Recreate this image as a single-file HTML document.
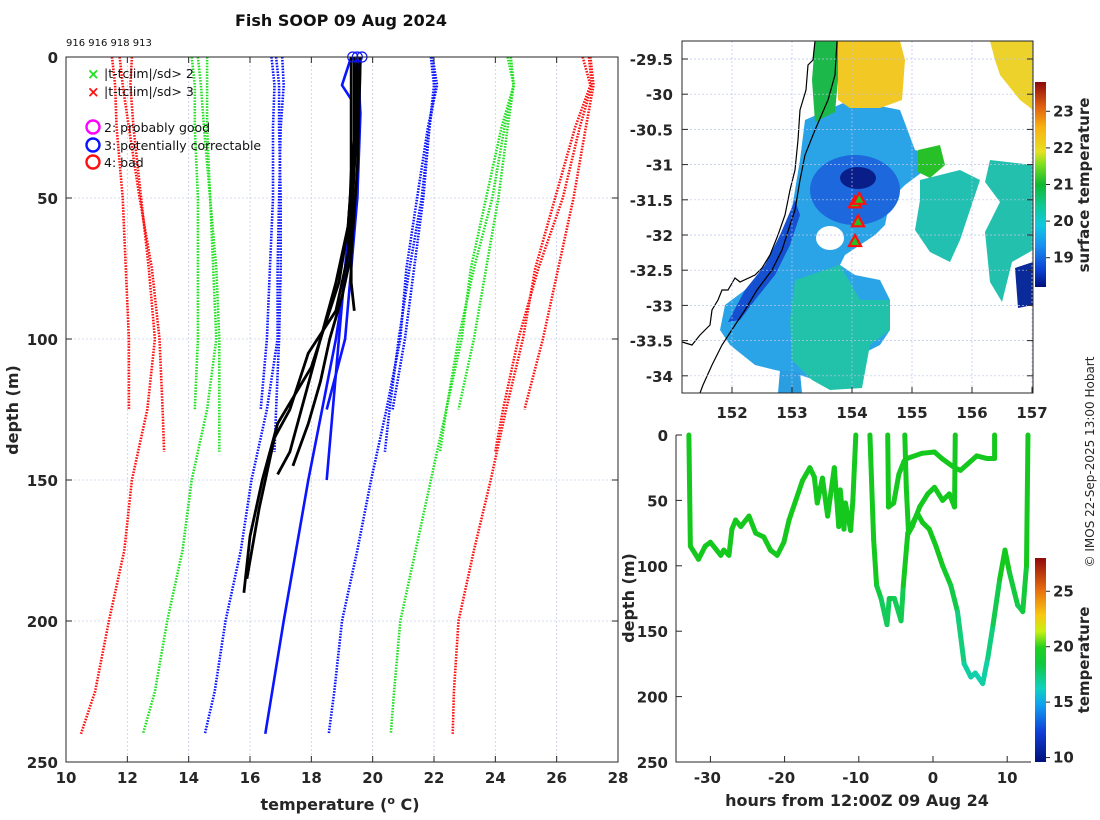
<!DOCTYPE html>
<html><head><meta charset="utf-8">
<style>
html,body{margin:0;padding:0;background:#fff;}
svg{display:block;font-family:"DejaVu Sans","Liberation Sans",sans-serif;}
.tk{font-size:15px;font-weight:bold;fill:#262626;}
</style></head>
<body>
<svg id="fig" width="1100" height="820" viewBox="0 0 1100 820" xmlns="http://www.w3.org/2000/svg">
<defs>
<linearGradient id="cb1" x1="0" y1="1" x2="0" y2="0">
<stop offset="0" stop-color="#00107a"/><stop offset="0.08" stop-color="#0a3fd0"/><stop offset="0.2" stop-color="#1a8ff0"/><stop offset="0.3" stop-color="#10c8e0"/><stop offset="0.4" stop-color="#10c890"/><stop offset="0.5" stop-color="#10b830"/><stop offset="0.6" stop-color="#80e020"/><stop offset="0.66" stop-color="#e8e020"/><stop offset="0.78" stop-color="#f8b010"/><stop offset="0.88" stop-color="#e06010"/><stop offset="1" stop-color="#8c0a0a"/>
</linearGradient>
<linearGradient id="cb2" x1="0" y1="1" x2="0" y2="0">
<stop offset="0" stop-color="#00107a"/><stop offset="0.15" stop-color="#1040d8"/><stop offset="0.28" stop-color="#10a0f0"/><stop offset="0.36" stop-color="#10d0c0"/><stop offset="0.48" stop-color="#10c840"/><stop offset="0.56" stop-color="#20d020"/><stop offset="0.64" stop-color="#c8f010"/><stop offset="0.72" stop-color="#f8c810"/><stop offset="0.84" stop-color="#e87010"/><stop offset="1" stop-color="#900a0a"/>
</linearGradient>
<clipPath id="mapclip"><rect x="682" y="41" width="351" height="352"/></clipPath>
<clipPath id="leftclip"><rect x="66" y="57" width="552" height="705"/></clipPath>
</defs>

<text x="341" y="26" text-anchor="middle" font-size="16" font-weight="bold" fill="#111">Fish SOOP 09 Aug 2024</text>
<text x="66" y="46" font-size="10" fill="#111">916 916 918 913</text>

<g id="left"></g>

<g>
<rect x="682" y="41" width="351" height="352" fill="#fff"/>
<g clip-path="url(#mapclip)">
<polygon fill="#2aa4e6" points="805,120 850,100 900,110 915,150 935,155 925,170 905,185 890,200 885,225 875,235 860,245 845,255 840,265 855,275 880,280 890,300 890,330 880,345 860,355 850,380 830,385 800,375 775,370 755,365 730,345 720,330 725,305 745,290 760,278 770,265 780,245 790,220 795,190 800,160"/>
<polygon fill="#22c2aa" points="795,280 840,265 860,300 890,300 890,330 870,345 862,388 830,390 812,380 792,360 790,320"/>
<polygon fill="#1550d0" points="795,200 800,215 790,245 775,275 755,300 740,320 728,322 745,290 765,265 780,235"/>
<ellipse cx="855" cy="190" rx="45" ry="35" fill="#1c68dc"/>
<ellipse cx="858" cy="178" rx="18" ry="11" fill="#0a1e8a"/>
<ellipse cx="830" cy="238" rx="14" ry="12" fill="#fff"/>
<ellipse cx="905" cy="245" rx="25" ry="20" fill="#fff"/>
<polygon fill="#1db84a" points="815,41 840,41 838,80 835,112 815,122 812,80"/>
<polygon fill="#f2c824" points="838,41 900,41 905,60 902,100 880,108 850,108 838,100"/>
<polygon fill="#ecd22a" points="990,41 1033,41 1033,110 1020,100 1000,75 995,60"/>
<polygon fill="#28c028" points="918,150 940,145 945,165 930,178 918,172"/>
<polygon fill="#22c0b0" points="920,180 960,170 980,180 970,210 960,240 950,262 930,252 915,230 920,200"/>
<polygon fill="#24c0ae" points="990,160 1033,165 1033,250 1012,262 1002,302 990,282 985,232 1000,202 985,182"/>
<polygon fill="#0a2a9a" points="1015,268 1033,262 1033,305 1018,308"/>
<polygon fill="#2a9ee0" points="780,370 800,372 802,393 778,393"/>
<path fill="none" stroke="#000" stroke-width="1.2" d="M815,41 L813,60 L808,65 L806,90 L800,110 L798,140 L795,170 L790,190 L785,215 L778,235 L770,255 L762,268 L755,275 L740,282 L735,278 L728,290 L722,290 L718,300 L712,310 L710,325 L700,335 L692,345 L682,342"/>
<path fill="none" stroke="#000" stroke-width="1.2" d="M837,41 L835,75 L828,100 L815,130 L805,155 L800,180 L795,210 L790,225 L782,250 L772,270 L757,290 L745,310 L735,325 L722,345 L712,365 L703,385 L700,393"/>
</g>
<g id="mapaxes"></g>
<rect x="1035" y="82" width="11" height="205" fill="url(#cb1)"/>
<text transform="translate(1089,185) rotate(-90)" text-anchor="middle" font-size="15" font-weight="bold" fill="#262626">surface temperature</text>
</g>

<g id="track"></g>
<rect x="1035" y="558" width="11" height="204" fill="url(#cb2)"/>
<text transform="translate(1089,660) rotate(-90)" text-anchor="middle" font-size="15" font-weight="bold" fill="#262626">temperature</text>
<text transform="translate(1094,462) rotate(-90)" text-anchor="middle" font-size="12" fill="#262626">© IMOS 22-Sep-2025 13:00 Hobart</text>
</svg>

<script>
// ---------- data: left profile panel ----------
const climDepthLong = [0,10,25,50,75,100,125,150,175,200,225,240];
const climMeanLong = [19.5,19.6,19.4,19.2,19.0,18.9,18.5,18.0,17.6,17.1,16.8,16.55];
const climSdLong = [2.45,2.5,2.4,2.25,2.1,2.0,1.95,1.95,1.9,1.9,1.95,2.02];
const climDepthA = [0,10,25,50,75,100,125];
const climMeanA = [19.3,19.4,19.3,19.2,19.0,18.8,18.5];
const climSdA = [2.6,2.6,2.55,2.45,2.35,2.25,2.15];
const climDepthB = [0,10,25,50,75,100,125,140];
const climMeanB = [19.4,19.5,19.4,19.3,19.1,18.9,18.7,18.6];
const climSdB = [2.55,2.55,2.45,2.3,2.1,1.95,1.85,1.8];
const sdMultipliers = [1,2,3];
const xTicks = [10,12,14,16,18,20,22,24,26,28];
const yTicks = [0,50,100,150,200,250];
const k1T = [19.5,19.5,19.4,19.3,19.3,19.4], k1D = [0,20,40,60,80,90];
const k2T = [19.4,19.4,19.2,18.8,18.3,17.8,17.3,16.9], k2D = [0,30,60,80,100,120,140,148];
const k3T = [19.5,19.4,19.2,18.9,18.3,18.0,16.9,16.4,16.0,15.8], k3D = [0,30,60,80,100,110,130,150,170,190];
const k4T = [19.3,19.3,19.2,18.8,17.9,17.3,16.8,16.3,15.9], k4D = [0,40,70,90,105,125,135,160,185];
const k5T = [19.6,19.5,19.3,19.0,18.6,18.3,17.9,17.4], k5D = [0,40,70,85,100,115,130,145];
const b1T = [19.5,19.6,19.5,18.8,17.9,17.1,16.5], b1D = [0,20,50,100,150,200,240];
const b2T = [19.3,19.0,19.3,19.3,18.9,18.5], b2D = [0,10,15,50,100,150];
const b3T = [19.6,19.5,19.1,18.5], b3D = [0,50,100,125];
const flagT = [19.35,19.5,19.65];

// ---------- data: map ----------
const lonTicks = [152,153,154,155,156,157];
const latTicks = [-29.5,-30,-30.5,-31,-31.5,-32,-32.5,-33,-33.5,-34];
const dropLon = [154.05,154.12,154.1,154.05];
const dropLat = [-31.55,-31.5,-31.82,-32.1];
const sstCbTicks = [19,20,21,22,23];

// ---------- data: depth-time panel ----------
const hourTicks = [-30,-20,-10,0,10];
const depthTicks2 = [0,50,100,150,200,250];
const tempCbTicks = [10,15,20,25];
const t1H = [-32.9,-32.7,-31.6,-30.7,-30,-28.6,-28.2,-27.5,-27.1,-26.6,-25.9,-24.8,-23.9,-22.8,-21.9,-21,-20.1,-19.4,-18.5,-17.6,-16.6,-16,-15.6,-14.9,-14.2,-13.3,-12.7,-12.5,-12,-11.8,-11.1,-10.8,-10.4];
const t1D = [0,85,95,85,82,92,88,92,72,65,70,62,75,78,88,92,82,65,50,35,25,32,52,33,62,25,70,42,72,52,73,50,0];
const t2H = [-8.5,-8,-7.6,-7,-6.2,-5.9,-5.2,-4.3,-4,-3.4,-2.1,-1.4,-0.5,0.4,1.3,2.4,3.3,4.2,5.1,5.7,6.7,7.4,8.1,9,9.7,10.3,11.4,12.1,12.6,12.8];
const t2D = [0,80,115,125,145,125,125,142,115,75,60,67,72,85,100,115,135,175,185,182,190,170,145,110,88,105,130,135,100,0];
const t3H = [-6.1,-6.0,-5.3,-4.6,-3.9,-3.5,-1.5,0.2,1.2,2.9,3.7,5.9,7.3,8.3,8.3];
const t3D = [0,55,52,30,20,18,14,13,18,25,27,16,18,18,0];
const t4H = [-3.8,-3.6,-3.3,-2.8,-1.8,-0.7,0.2,1.3,2.2,2.9,3.0];
const t4D = [0,40,75,70,55,45,40,50,45,55,0];

const NS = "http://www.w3.org/2000/svg";
function mk(parent, tag, attrs){const e=document.createElementNS(NS,tag);for(const k in attrs)e.setAttribute(k,attrs[k]);parent.appendChild(e);return e;}

// ===== left panel =====
const L = document.getElementById('left');
const lx = t => 66 + (t-10)*(552/18);
const ly = d => 57 + d*(705/250);
xTicks.forEach(t=>{
  const g = mk(L,'line',{x1:lx(t),x2:lx(t),y1:57,y2:762,stroke:'#c8d0e8','stroke-width':0.8,'stroke-dasharray':'2 2'});
  
  
});
yTicks.forEach(d=>{
  const g = mk(L,'line',{x1:66,x2:618,y1:ly(d),y2:ly(d),stroke:'#c8d0e8','stroke-width':0.8,'stroke-dasharray':'2 2'});
  
  
});
const clipG = mk(L,'g',{'clip-path':'url(#leftclip)'});


const sdColors = ['#0a14ff','#22e022','#ff1010'];
function climLines(depths, means, sds, nm){
  sdMultipliers.forEach((k,i)=>{
    [-1,1].forEach(sg=>{
      const pts = depths.map((d,j)=>lx(means[j]+sg*k*sds[j]).toFixed(1)+','+ly(d).toFixed(1)).join(' ');
      const p = mk(clipG,'polyline',{points:pts,fill:'none',stroke:sdColors[i],'stroke-width':2.6,'stroke-dasharray':'1.6 1.3'});
      
      
    });
  });
}
climLines(climDepthLong, climMeanLong, climSdLong, 'long');
climLines(climDepthA, climMeanA, climSdA, 'a');
climLines(climDepthB, climMeanB, climSdB, 'b');
function prof(T,D,color,w,nm){
  const pts = T.map((t,j)=>lx(t).toFixed(1)+','+ly(D[j]).toFixed(1)).join(' ');
  const p = mk(clipG,'polyline',{points:pts,fill:'none',stroke:color,'stroke-width':w,'stroke-linejoin':'round'});
  
  
}
prof(b1T,b1D,'#0a14ff',2.6,'blue-profile-1');
prof(b2T,b2D,'#0a14ff',2.6,'blue-profile-2');
prof(b3T,b3D,'#0a14ff',2.6,'blue-profile-3');
prof(k1T,k1D,'#000',2.8,'xbt-profile-1');
prof(k2T,k2D,'#000',2.8,'xbt-profile-2');
prof(k3T,k3D,'#000',2.8,'xbt-profile-3');
prof(k4T,k4D,'#000',2.8,'xbt-profile-4');
prof(k5T,k5D,'#000',2.8,'xbt-profile-5');
flagT.forEach(t=>{
  const c = mk(L,'circle',{cx:lx(t),cy:ly(0),r:5,fill:'none',stroke:'#0a14ff','stroke-width':1.2});
  
  
});
const fr = mk(L,'rect',{x:66,y:57,width:552,height:705,fill:'none',stroke:'#262626','stroke-width':1});


xTicks.forEach(t=>{
  const a = mk(L,'line',{x1:lx(t),x2:lx(t),y1:762,y2:756,stroke:'#262626'});
  
  
  const b = mk(L,'line',{x1:lx(t),x2:lx(t),y1:57,y2:63,stroke:'#262626'});
  
  
  const tx = mk(L,'text',{x:lx(t),y:783,'text-anchor':'middle',class:'tk'});
  tx.textContent = t;
  
  
});
yTicks.forEach(d=>{
  const a = mk(L,'line',{x1:66,x2:72,y1:ly(d),y2:ly(d),stroke:'#262626'});
  
  
  const b = mk(L,'line',{x1:618,x2:612,y1:ly(d),y2:ly(d),stroke:'#262626'});
  
  
  const tx = mk(L,'text',{x:58,y:ly(d)+6,'text-anchor':'end',class:'tk'});
  tx.textContent = d;
  
  
});
const xl = mk(L,'text',{x:340,y:810,'text-anchor':'middle','font-size':16,'font-weight':'bold',fill:'#262626'});
xl.textContent = 'temperature (';
const sup = mk(xl,'tspan',{dy:-6,'font-size':11});
sup.textContent = 'o';


const rest = mk(xl,'tspan',{dy:6});
rest.textContent = ' C)';




const yl = mk(L,'text',{transform:'translate(18,410) rotate(-90)','text-anchor':'middle','font-size':16,'font-weight':'bold',fill:'#262626'});
yl.textContent = 'depth (m)';


const legX = [['#22e022','|t-tclim|/sd> 2',73],['#ff1010','|t-tclim|/sd> 3',91]];
legX.forEach(it=>{
  const m = mk(L,'text',{x:87,y:it[2]+6,'font-size':15,'font-weight':'bold',fill:it[0]});
  m.textContent = '×';
  
  
  const t = mk(L,'text',{x:104,y:it[2]+5,'font-size':12.5,fill:'#111'});
  t.textContent = it[1];
  
  
});
const legC = [['#ff00ff','2: probably good',127],['#0a14ff','3: potentially correctable',145],['#ff1010','4: bad',162]];
legC.forEach(it=>{
  const c = mk(L,'circle',{cx:93,cy:it[2],r:6.5,fill:'none',stroke:it[0],'stroke-width':2.4});
  
  
  const t = mk(L,'text',{x:104,y:it[2]+5,'font-size':12.5,fill:'#111'});
  t.textContent = it[1];
  
  
});

// ===== map axes =====
const M = document.getElementById('mapaxes');
const mx = lon => 732 + (lon-152)*60;
const my = lat => 59 + (-29.5-lat)*70.4;
lonTicks.forEach(v=>{
  const g = mk(M,'line',{x1:mx(v),x2:mx(v),y1:41,y2:393,stroke:'#b8c4e8','stroke-width':0.7,'stroke-dasharray':'2 2'});
  
  
  const tx = mk(M,'text',{x:mx(v),y:418,'text-anchor':'middle',class:'tk'});
  tx.textContent = v;
  
  
  const tk = mk(M,'line',{x1:mx(v),x2:mx(v),y1:393,y2:387,stroke:'#262626'});
  
  
});
latTicks.forEach(v=>{
  const g = mk(M,'line',{x1:682,x2:1033,y1:my(v),y2:my(v),stroke:'#b8c4e8','stroke-width':0.7,'stroke-dasharray':'2 2'});
  
  
  const tx = mk(M,'text',{x:673,y:my(v)+6,'text-anchor':'end',class:'tk'});
  tx.textContent = v;
  
  
  const tk = mk(M,'line',{x1:682,x2:688,y1:my(v),y2:my(v),stroke:'#262626'});
  
  
  const tk2 = mk(M,'line',{x1:1033,x2:1027,y1:my(v),y2:my(v),stroke:'#262626'});
  
  
});
dropLon.forEach((lon,i)=>{
  const x = mx(lon), y = my(dropLat[i]);
  const t = mk(M,'polygon',{points:`${x},${y-7} ${x-6},${y+4} ${x+6},${y+4}`,fill:'#22c022',stroke:'#ff1010','stroke-width':2.2});
  
  
});
const mf = mk(M,'rect',{x:682,y:41,width:351,height:352,fill:'none',stroke:'#262626','stroke-width':1});


const cb1y = v => 287 - (v-18.2)*(205/5.6);
sstCbTicks.forEach(v=>{
  const tk = mk(M,'line',{x1:1046,x2:1050,y1:cb1y(v),y2:cb1y(v),stroke:'#262626'});
  
  
  const tx = mk(M,'text',{x:1053,y:cb1y(v)+5,class:'tk','font-size':14});
  tx.textContent = v;
  
  
});

// ===== depth-time panel =====
const T = document.getElementById('track');
const tx_ = h => 933 + h*7.42;
const ty_ = d => 435 + d*(327/250);
function depthColor(d){
  const f = Math.max(0,Math.min(1,(d-100)/90));
  const r = Math.round(20 + f*(16-20)), g = Math.round(200 + f*(208-200)), b = Math.round(30 + f*(180-30));
  return `rgb(${r},${g},${b})`;
}
function track(H,D,nm){
  for(let i=0;i<H.length-1;i++){
    const s = mk(T,'line',{x1:tx_(H[i]),y1:ty_(D[i]),x2:tx_(H[i+1]),y2:ty_(D[i+1]),stroke:depthColor((D[i]+D[i+1])/2),'stroke-width':5,'stroke-linecap':'round'});
    
    
  }
}
track(t1H,t1D,'track-1');
track(t2H,t2D,'track-2');
track(t3H,t3D,'track-3');
track(t4H,t4D,'track-4');
const ax2 = mk(T,'polyline',{points:'676,435 676,762 1031,762',fill:'none',stroke:'#262626','stroke-width':1});


hourTicks.forEach(h=>{
  const tk = mk(T,'line',{x1:tx_(h),x2:tx_(h),y1:762,y2:756,stroke:'#262626'});
  
  
  const t = mk(T,'text',{x:tx_(h)-(h<0?3:0),y:783,'text-anchor':'middle',class:'tk'});
  t.textContent = h<0 ? '-'+Math.abs(h) : h;
  
  
});
depthTicks2.forEach(d=>{
  const tk = mk(T,'line',{x1:676,x2:682,y1:ty_(d),y2:ty_(d),stroke:'#262626'});
  
  
  const t = mk(T,'text',{x:668,y:ty_(d)+6,'text-anchor':'end',class:'tk'});
  t.textContent = d;
  
  
});
const xl2 = mk(T,'text',{x:857,y:806,'text-anchor':'middle','font-size':16,'font-weight':'bold',fill:'#262626'});
xl2.textContent = 'hours from 12:00Z 09 Aug 24';


const yl2 = mk(T,'text',{transform:'translate(634,598) rotate(-90)','text-anchor':'middle','font-size':16,'font-weight':'bold',fill:'#262626'});
yl2.textContent = 'depth (m)';


const cb2y = v => 762 - (v-9.6)*(204/18.4);
tempCbTicks.forEach(v=>{
  const tk = mk(T,'line',{x1:1046,x2:1050,y1:cb2y(v),y2:cb2y(v),stroke:'#262626'});
  
  
  const t = mk(T,'text',{x:1053,y:cb2y(v)+5,class:'tk','font-size':14});
  t.textContent = v;
  
  
});
</script>
</body></html>
